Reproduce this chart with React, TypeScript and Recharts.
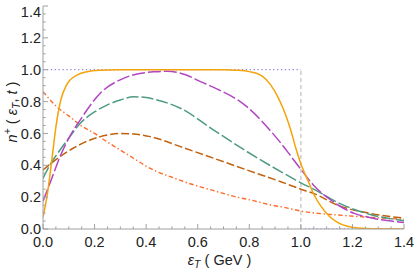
import React from 'react';
import { LineChart, Line, XAxis, YAxis, Label } from 'recharts';

// ---- data ----
const orangeX = [0, 0.015, 0.034, 0.05, 0.069, 0.09, 0.105, 0.13, 0.17, 0.22, 0.3, 0.5, 0.7, 0.75, 0.8, 0.85, 0.883, 0.915, 0.94, 0.961, 0.98, 1.0, 1.032, 1.051, 1.077, 1.11, 1.142, 1.18, 1.22, 1.3, 1.4];
const orangeY = [0.075, 0.2, 0.43, 0.64, 0.81, 0.9, 0.935, 0.965, 0.987, 0.997, 1.0, 1.0, 1.0, 0.997, 0.988, 0.96, 0.905, 0.815, 0.72, 0.62, 0.51, 0.41, 0.287, 0.215, 0.145, 0.08, 0.042, 0.017, 0.006, 0.001, 0];

const purpleX = [0, 0.03, 0.066, 0.1, 0.144, 0.222, 0.312, 0.43, 0.48, 0.55, 0.611, 0.68, 0.755, 0.8, 0.844, 0.883, 0.922, 0.961, 1.0, 1.051, 1.116, 1.16, 1.207, 1.25, 1.298, 1.35, 1.4];
const purpleY = [0.175, 0.3, 0.454, 0.57, 0.684, 0.852, 0.946, 0.987, 0.99, 0.97, 0.925, 0.875, 0.81, 0.755, 0.685, 0.615, 0.54, 0.458, 0.375, 0.272, 0.182, 0.135, 0.098, 0.078, 0.061, 0.05, 0.04];

const tealX = [0, 0.03, 0.066, 0.1, 0.144, 0.2, 0.248, 0.3, 0.351, 0.4, 0.442, 0.533, 0.662, 0.792, 0.922, 1.0, 1.051, 1.142, 1.272, 1.4];
const tealY = [0.318, 0.41, 0.496, 0.57, 0.663, 0.735, 0.778, 0.81, 0.83, 0.825, 0.81, 0.758, 0.621, 0.485, 0.36, 0.29, 0.249, 0.167, 0.09, 0.052];

const brownX = [0, 0.03, 0.066, 0.12, 0.183, 0.25, 0.3, 0.35, 0.416, 0.533, 0.662, 0.792, 0.922, 1.0, 1.051, 1.142, 1.272, 1.4];
const brownY = [0.37, 0.41, 0.454, 0.51, 0.559, 0.59, 0.6, 0.597, 0.58, 0.517, 0.444, 0.37, 0.297, 0.25, 0.222, 0.15, 0.097, 0.068];

const redX = [0, 0.053, 0.1, 0.144, 0.2, 0.248, 0.3, 0.351, 0.4, 0.442, 0.5, 0.546, 0.6, 0.676, 0.74, 0.805, 0.883, 0.922, 1.013, 1.142, 1.272, 1.4];
const redY = [0.862, 0.768, 0.71, 0.653, 0.6, 0.548, 0.495, 0.444, 0.395, 0.36, 0.325, 0.297, 0.27, 0.234, 0.205, 0.182, 0.151, 0.14, 0.109, 0.088, 0.073, 0.061];

const stepTopX = [0, 1.0];
const stepTopY = [1, 1];
const stepBottomX = [1.0, 1.4];
const stepBottomY = [0, 0];
const stepVertX = [1.0, 1.0];
const stepVertY = [0, 1];

const xMajor = [0, 0.2, 0.4, 0.6, 0.8, 1.0, 1.2, 1.4];
const xTicksAll = [0, 0.05, 0.1, 0.15, 0.2, 0.25, 0.3, 0.35, 0.4, 0.45, 0.5, 0.55, 0.6, 0.65, 0.7, 0.75, 0.8, 0.85, 0.9, 0.95, 1.0, 1.05, 1.1, 1.15, 1.2, 1.25, 1.3, 1.35, 1.4];
const yMajor = [0, 0.2, 0.4, 0.6, 0.8, 1.0, 1.2, 1.4];
const yTicksAll = [0, 0.05, 0.1, 0.15, 0.2, 0.25, 0.3, 0.35, 0.4, 0.45, 0.5, 0.55, 0.6, 0.65, 0.7, 0.75, 0.8, 0.85, 0.9, 0.95, 1.0, 1.05, 1.1, 1.15, 1.2, 1.25, 1.3, 1.35, 1.4];

const zip = (xs: number[], ys: number[]) => xs.map((x, i) => ({ x, y: ys[i] }));

const FONT = '"Liberation Sans", Arial, sans-serif';
const FRAME = '#a0a0a0';
const MAJ = 5;
const MIN = 2.6;
const MARGIN = 6;

const isMajor = (v: number, list: number[]) => list.some((m) => Math.abs(m - v) < 1e-6);

const BottomTick = (props: any) => {
  const { x, y, payload } = props;
  const v = payload.value;
  const ay = y - MARGIN;
  const maj = isMajor(v, xMajor);
  return (
    <g>
      <line x1={x} x2={x} y1={ay} y2={ay - (maj ? MAJ : MIN)} stroke={FRAME} strokeWidth={1} />
      {maj && (
        <text x={x} y={ay + 18} textAnchor="middle" fontSize={14.5} fontFamily={FONT} fill="#222">
          {v.toFixed(1)}
        </text>
      )}
    </g>
  );
};

const LeftTick = (props: any) => {
  const { x, y, payload } = props;
  const v = payload.value;
  const ax = x + MARGIN;
  const maj = isMajor(v, yMajor);
  const shift = Math.abs(v - 1.4) < 1e-6 ? 5.5 : 0;
  return (
    <g>
      <line x1={ax} x2={ax + (maj ? MAJ : MIN)} y1={y} y2={y} stroke={FRAME} strokeWidth={1} />
      {maj && (
        <text x={ax - 2} y={y + 5.2 + shift} textAnchor="end" fontSize={14.5} fontFamily={FONT} fill="#222">
          {v.toFixed(1)}
        </text>
      )}
    </g>
  );
};

const TopTick = (props: any) => {
  const { x, y, payload } = props;
  const maj = isMajor(payload.value, xMajor);
  return <line x1={x} x2={x} y1={y} y2={y + (maj ? MAJ : MIN)} stroke={FRAME} strokeWidth={1} />;
};

const RightTick = (props: any) => {
  const { x, y, payload } = props;
  const maj = isMajor(payload.value, yMajor);
  return <line x1={x} x2={x - (maj ? MAJ : MIN)} y1={y} y2={y} stroke={FRAME} strokeWidth={1} />;
};

const XTitle = (props: any) => {
  const vb = props.viewBox || {};
  const cx = vb.x + vb.width / 2 - 4;
  const cy = vb.y + 36;
  return (
    <text x={cx} y={cy} textAnchor="middle" fontSize={14.5} fontFamily={FONT} fill="#222">
      <tspan fontStyle="italic">ε</tspan>
      <tspan fontStyle="italic" fontSize={10.5} dy={3}>T</tspan>
      <tspan dy={-3}>{' ( GeV )'}</tspan>
    </text>
  );
};

const YTitle = () => {
  const cx = 12;
  const cy = 112;
  return (
    <text x={cx} y={cy} textAnchor="middle" fontSize={14.5} fontFamily={FONT} fill="#222" transform={`rotate(-90 ${cx} ${cy})`} dy={5}>
      <tspan fontStyle="italic">n</tspan>
      <tspan fontSize={10.5} dy={-6}>+</tspan>
      <tspan dy={6}>{' ( '}</tspan>
      <tspan fontStyle="italic">ε</tspan>
      <tspan fontStyle="italic" fontSize={10.5} dy={3}>T</tspan>
      <tspan dy={-3}>{', '}</tspan>
      <tspan fontStyle="italic">t</tspan>
      <tspan>{' )'}</tspan>
    </text>
  );
};

export default function App() {
  return (
    <div style={{ position: 'absolute', left: 0, top: 0, width: 414, height: 270, background: '#fff' }}>
      <LineChart width={414} height={270} margin={{ top: 6, right: 10, left: 0, bottom: 0 }}>
        <XAxis
          xAxisId={0}
          dataKey="x"
          type="number"
          domain={[0, 1.4]}
          ticks={xTicksAll}
          interval={0}
          height={41}
          tickSize={0}
          tickMargin={MARGIN}
          tickLine={false}
          axisLine={{ stroke: FRAME }}
          tick={<BottomTick />}
          allowDataOverflow
        >
          <Label content={<XTitle />} />
        </XAxis>
        <XAxis
          xAxisId="top"
          orientation="top"
          dataKey="x"
          type="number"
          domain={[0, 1.4]}
          ticks={xTicksAll}
          interval={0}
          height={0}
          tickSize={0}
          tickMargin={0}
          tickLine={false}
          axisLine={{ stroke: FRAME }}
          tick={<TopTick />}
          allowDataOverflow
        />
        <YAxis
          yAxisId={0}
          type="number"
          domain={[0, 1.4]}
          ticks={yTicksAll}
          interval={0}
          width={43}
          tickSize={0}
          tickMargin={MARGIN}
          tickLine={false}
          axisLine={{ stroke: FRAME }}
          tick={<LeftTick />}
          allowDataOverflow
        >
          <Label content={<YTitle />} />
        </YAxis>
        <YAxis
          yAxisId="right"
          orientation="right"
          type="number"
          domain={[0, 1.4]}
          ticks={yTicksAll}
          interval={0}
          width={0}
          tickSize={0}
          tickMargin={0}
          tickLine={false}
          axisLine={{ stroke: FRAME }}
          tick={<RightTick />}
          allowDataOverflow
        />
        <Line data={zip(stepTopX, stepTopY)} dataKey="y" type="linear" dot={false} isAnimationActive={false} stroke="#8c8ce6" strokeWidth={1.3} strokeDasharray="1.3 2.6" />
        <Line data={zip(stepBottomX, stepBottomY)} dataKey="y" type="linear" dot={false} isAnimationActive={false} stroke="#8c8ce6" strokeWidth={1.3} strokeDasharray="1.3 2.6" />
        <Line data={zip(stepVertX, stepVertY)} dataKey="y" type="linear" dot={false} isAnimationActive={false} stroke="#cccccc" strokeWidth={1.5} strokeDasharray="4 3" />
        <Line data={zip(redX, redY)} dataKey="y" type="monotone" dot={false} isAnimationActive={false} stroke="#ff6a28" strokeWidth={1.4} strokeDasharray="4.5 2.5 1.4 2.5" />
        <Line data={zip(brownX, brownY)} dataKey="y" type="monotone" dot={false} isAnimationActive={false} stroke="#c0620e" strokeWidth={1.5} strokeDasharray="8 3" />
        <Line data={zip(tealX, tealY)} dataKey="y" type="monotone" dot={false} isAnimationActive={false} stroke="#4e9a82" strokeWidth={1.5} strokeDasharray="12 3" />
        <Line data={zip(purpleX, purpleY)} dataKey="y" type="monotone" dot={false} isAnimationActive={false} stroke="#b245c2" strokeWidth={1.5} strokeDasharray="13 3" />
        <Line data={zip(orangeX, orangeY)} dataKey="y" type="monotone" dot={false} isAnimationActive={false} stroke="#f5a30a" strokeWidth={1.5} />
      </LineChart>
    </div>
  );
}
